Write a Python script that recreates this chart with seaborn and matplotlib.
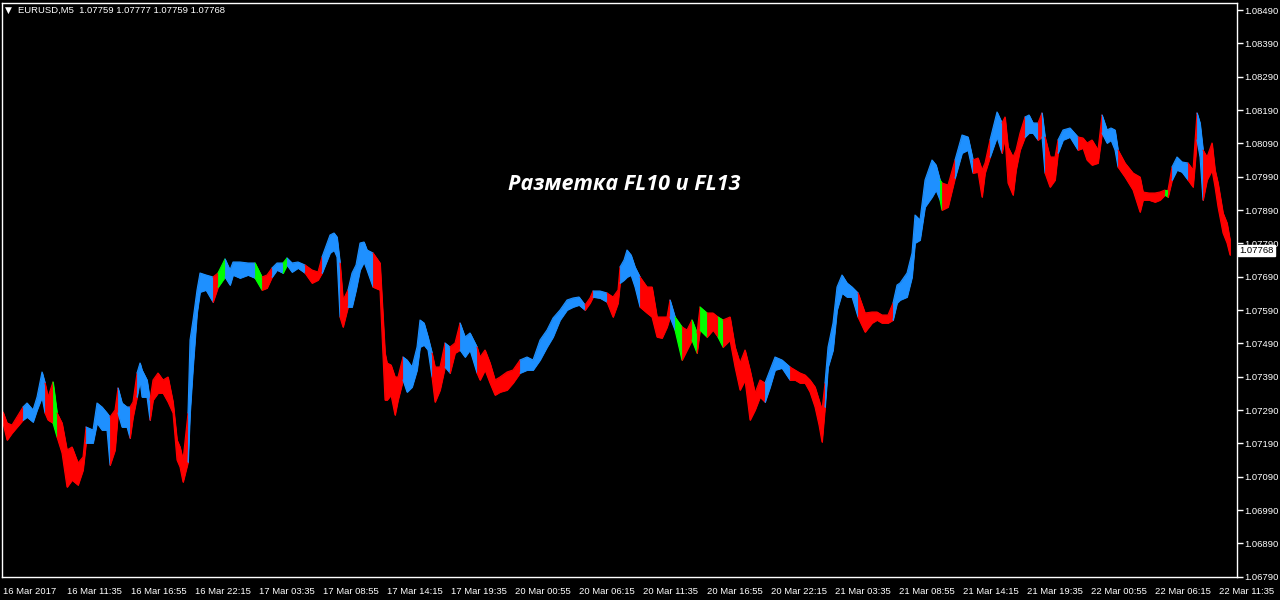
import matplotlib
matplotlib.use("Agg")
import matplotlib.pyplot as plt
import matplotlib.transforms as mtransforms
import numpy as np
import pandas as pd
import seaborn as sns

# ---------------- data ----------------
# bar index of each sample (M5 bars from the first bar on the chart)
bar = [0, 4, 9, 20, 24, 30, 34, 39, 42, 45, 50, 54, 59, 64, 69, 75, 80, 83, 90, 94,
       99, 104, 107, 112, 115, 119, 124, 127, 130, 134, 137, 139, 144, 147, 150, 155, 160, 165, 170, 174,
       177, 180, 185, 187, 190, 194, 197, 203, 210, 215, 222, 227, 230, 237, 245, 252, 259, 264, 269, 274,
       280, 284, 289, 295, 302, 309, 315, 319, 327, 331, 334, 337, 340, 345, 349, 353, 357, 361, 364, 370,
       377, 382, 384, 388, 392, 395, 400, 404, 409, 414, 417, 421, 425, 429, 432, 437, 442, 447, 452, 457,
       462, 467, 474, 477, 482, 487, 492, 497, 504, 510, 517, 524, 530, 537, 544, 550, 557, 564, 570, 576,
       582, 587, 590, 597, 604, 610, 615, 617, 621, 624, 628, 632, 637, 644, 649, 654, 659, 664, 667, 672,
       679, 684, 689, 694, 697, 704, 710, 715, 720, 727, 732, 737, 742, 747, 752, 757, 762, 767, 772, 779,
       787, 792, 797, 802, 807, 812, 816, 819, 822, 825, 830, 834, 839, 844, 849, 855, 862, 869, 874, 879,
       885, 890, 894, 897, 904, 909, 912, 917, 922, 929, 933, 937, 939, 945, 952, 959, 965, 970, 975, 979,
       982, 987, 994, 999, 1002, 1005, 1010, 1013, 1017, 1022, 1026, 1030, 1035, 1039, 1042, 1047, 1052, 1055, 1060, 1067,
       1075, 1080, 1084, 1089, 1095, 1099, 1104, 1108, 1112, 1115, 1122, 1130, 1137, 1140, 1146, 1152, 1157, 1162, 1165, 1169,
       1174, 1179, 1185, 1190, 1194, 1197, 1200, 1204, 1209, 1212, 1215, 1220, 1224, 1227]
high = [1.07284, 1.07251, 1.07245, 1.07299, 1.07311, 1.07290, 1.07329, 1.07404, 1.07371, 1.07329,
        1.07374, 1.07281, 1.07251, 1.07170, 1.07179, 1.07131, 1.07149, 1.07239, 1.07230, 1.07311,
        1.07299, 1.07281, 1.07269, 1.07290, 1.07356, 1.07311, 1.07299, 1.07299, 1.07314, 1.07401,
        1.07431, 1.07410, 1.07380, 1.07320, 1.07380, 1.07401, 1.07380, 1.07389, 1.07314, 1.07200,
        1.07179, 1.07140, 1.07281, 1.07500, 1.07560, 1.07650, 1.07701, 1.07695, 1.07689, 1.07701,
        1.07743, 1.07710, 1.07734, 1.07734, 1.07731, 1.07731, 1.07689, 1.07695, 1.07716, 1.07731,
        1.07731, 1.07746, 1.07731, 1.07734, 1.07725, 1.07710, 1.07704, 1.07749, 1.07815, 1.07821,
        1.07809, 1.07731, 1.07620, 1.07650, 1.07701, 1.07725, 1.07791, 1.07794, 1.07770, 1.07761,
        1.07731, 1.07461, 1.07431, 1.07425, 1.07389, 1.07389, 1.07449, 1.07440, 1.07419, 1.07479,
        1.07560, 1.07551, 1.07509, 1.07461, 1.07419, 1.07419, 1.07491, 1.07479, 1.07491, 1.07551,
        1.07509, 1.07521, 1.07479, 1.07449, 1.07470, 1.07431, 1.07380, 1.07389, 1.07404, 1.07410,
        1.07440, 1.07449, 1.07440, 1.07500, 1.07530, 1.07566, 1.07590, 1.07620, 1.07626, 1.07629,
        1.07605, 1.07626, 1.07647, 1.07647, 1.07641, 1.07629, 1.07650, 1.07719, 1.07740, 1.07770,
        1.07755, 1.07719, 1.07689, 1.07659, 1.07659, 1.07569, 1.07569, 1.07569, 1.07620, 1.07569,
        1.07539, 1.07530, 1.07560, 1.07521, 1.07599, 1.07581, 1.07581, 1.07569, 1.07560, 1.07569,
        1.07479, 1.07431, 1.07470, 1.07410, 1.07341, 1.07380, 1.07371, 1.07410, 1.07449, 1.07440,
        1.07419, 1.07410, 1.07401, 1.07395, 1.07380, 1.07359, 1.07320, 1.07290, 1.07371, 1.07479,
        1.07551, 1.07659, 1.07695, 1.07671, 1.07659, 1.07641, 1.07581, 1.07584, 1.07584, 1.07575,
        1.07575, 1.07611, 1.07665, 1.07671, 1.07701, 1.07761, 1.07875, 1.07860, 1.07980, 1.08040,
        1.08025, 1.07980, 1.07971, 1.07965, 1.08040, 1.08115, 1.08109, 1.08040, 1.08046, 1.08010,
        1.08031, 1.08100, 1.08184, 1.08151, 1.08169, 1.08079, 1.08049, 1.08070, 1.08121, 1.08169,
        1.08175, 1.08151, 1.08151, 1.08181, 1.08109, 1.08049, 1.08049, 1.08100, 1.08130, 1.08136,
        1.08109, 1.08106, 1.08091, 1.08100, 1.08070, 1.08175, 1.08130, 1.08136, 1.08130, 1.08070,
        1.08031, 1.08001, 1.07989, 1.07944, 1.07941, 1.07941, 1.07944, 1.07950, 1.07950, 1.08019,
        1.08049, 1.08034, 1.08031, 1.08010, 1.08181, 1.08151, 1.08070, 1.08049, 1.08091, 1.08010,
        1.07971, 1.07881, 1.07851, 1.07800]
low = [1.07251, 1.07200, 1.07221, 1.07260, 1.07269, 1.07254, 1.07290, 1.07329, 1.07281, 1.07260,
       1.07251, 1.07209, 1.07161, 1.07059, 1.07080, 1.07065, 1.07110, 1.07191, 1.07191, 1.07251,
       1.07230, 1.07230, 1.07125, 1.07170, 1.07281, 1.07239, 1.07239, 1.07206, 1.07269, 1.07329,
       1.07380, 1.07329, 1.07329, 1.07260, 1.07320, 1.07341, 1.07341, 1.07314, 1.07281, 1.07140,
       1.07119, 1.07074, 1.07134, 1.07281, 1.07419, 1.07581, 1.07644, 1.07650, 1.07614, 1.07659,
       1.07689, 1.07665, 1.07695, 1.07686, 1.07695, 1.07686, 1.07650, 1.07656, 1.07689, 1.07710,
       1.07701, 1.07725, 1.07704, 1.07716, 1.07701, 1.07671, 1.07680, 1.07701, 1.07761, 1.07770,
       1.07749, 1.07569, 1.07539, 1.07599, 1.07599, 1.07650, 1.07710, 1.07734, 1.07710, 1.07659,
       1.07650, 1.07320, 1.07320, 1.07335, 1.07275, 1.07320, 1.07380, 1.07344, 1.07359, 1.07410,
       1.07479, 1.07485, 1.07470, 1.07389, 1.07314, 1.07350, 1.07419, 1.07401, 1.07461, 1.07470,
       1.07449, 1.07470, 1.07401, 1.07380, 1.07410, 1.07371, 1.07335, 1.07344, 1.07350, 1.07371,
       1.07401, 1.07410, 1.07410, 1.07440, 1.07479, 1.07509, 1.07560, 1.07590, 1.07599, 1.07605,
       1.07590, 1.07611, 1.07629, 1.07626, 1.07614, 1.07569, 1.07611, 1.07671, 1.07680, 1.07689,
       1.07695, 1.07659, 1.07599, 1.07581, 1.07569, 1.07509, 1.07506, 1.07539, 1.07569, 1.07530,
       1.07440, 1.07470, 1.07500, 1.07461, 1.07530, 1.07509, 1.07530, 1.07509, 1.07479, 1.07500,
       1.07419, 1.07350, 1.07380, 1.07260, 1.07290, 1.07329, 1.07314, 1.07359, 1.07410, 1.07416,
       1.07380, 1.07380, 1.07371, 1.07371, 1.07344, 1.07299, 1.07245, 1.07194, 1.07299, 1.07419,
       1.07470, 1.07590, 1.07641, 1.07629, 1.07629, 1.07569, 1.07524, 1.07551, 1.07560, 1.07551,
       1.07551, 1.07560, 1.07611, 1.07620, 1.07629, 1.07689, 1.07791, 1.07800, 1.07899, 1.07929,
       1.07950, 1.07920, 1.07890, 1.07899, 1.07986, 1.08061, 1.08070, 1.08001, 1.08004, 1.07929,
       1.08001, 1.08049, 1.08109, 1.08061, 1.08109, 1.07971, 1.07935, 1.08010, 1.08070, 1.08109,
       1.08121, 1.08121, 1.08100, 1.08109, 1.08001, 1.07959, 1.07980, 1.08061, 1.08100, 1.08109,
       1.08070, 1.08076, 1.08040, 1.08025, 1.08031, 1.08121, 1.08091, 1.08100, 1.08070, 1.08019,
       1.07989, 1.07950, 1.07884, 1.07920, 1.07920, 1.07914, 1.07920, 1.07935, 1.07929, 1.07980,
       1.08010, 1.08004, 1.07980, 1.07959, 1.08100, 1.08049, 1.07920, 1.07980, 1.08010, 1.07959,
       1.07899, 1.07821, 1.07791, 1.07755]
# FL10 / FL13 marking: B = up (blue), R = down (red), G = flat (green)
signal = list("".join([
    "RRRBBBBBRR", "GRRRRRRBBB", "BBRRBBBRRB", "BBBRRRRRRR", "RRBBBBBBRG",
    "BBBBBGRRBB", "GBBBRRRBBB", "BRRBBBBBBR", "RRRRRRBBBB", "BBBRRRBRRB",
    "BBRRRRRRRR", "BBBBBBBBBB", "RRBBRRRBBB", "BBRRRRRRBG", "RRGRGRRGRR",
    "RRRRRRBBBB", "RRRRRRRRBB", "BBBBBRRRRR", "RBBBBBBBBB", "BGRRBBBRRR",
    "RBBRRRRRRB", "BBRBRRRBBB", "RRRRRBBBBR", "RRRRRRRGRB", "BBRRBBRRRR",
    "RRRR"]))
x_tick_labels = ["16 Mar 2017", "16 Mar 11:35", "16 Mar 16:55", "16 Mar 22:15", "17 Mar 03:35",
                 "17 Mar 08:55", "17 Mar 14:15", "17 Mar 19:35", "20 Mar 00:55", "20 Mar 06:15",
                 "20 Mar 11:35", "20 Mar 16:55", "20 Mar 22:15", "21 Mar 03:35", "21 Mar 08:55",
                 "21 Mar 14:15", "21 Mar 19:35", "22 Mar 00:55", "22 Mar 06:15", "22 Mar 11:35"]
y_ticks = [1.06790, 1.06890, 1.06990, 1.07090, 1.07190, 1.07290, 1.07390, 1.07490, 1.07590,
           1.07690, 1.07790, 1.07890, 1.07990, 1.08090, 1.08190, 1.08290, 1.08390, 1.08490]
last_ohlc = [1.07759, 1.07777, 1.07759, 1.07768]
symbol = "EURUSD,M5"
title = "Разметка FL10 и FL13"

palette = {"B": "#1E90FF", "R": "#FF0000", "G": "#00FF00"}

# ---------------- figure ----------------
sns.set_style("dark", rc={"axes.facecolor": "black", "figure.facecolor": "black",
                          "axes.edgecolor": "white", "text.color": "white",
                          "xtick.color": "white", "ytick.color": "white",
                          "axes.grid": False})
plt.rcParams["font.family"] = ["Liberation Sans", "DejaVu Sans"]

W, H = 1280, 600
fig = plt.figure(figsize=(W / 100, H / 100), dpi=100)
ax = fig.add_axes([2 / W, 1 - 577 / H, (1237 - 2) / W, (577 - 3) / H])

df = pd.DataFrame({"bar": bar, "high": high, "low": low, "signal": signal})

# split into runs of equal colour, each run joined to the next sample
runs = (df["signal"] != df["signal"].shift()).cumsum()
for _, grp in df.groupby(runs, sort=False):
    i0, i1 = grp.index[0], grp.index[-1]
    seg = df.loc[i0:min(i1 + 1, len(df) - 1)]
    c = palette[grp["signal"].iloc[0]]
    ax.fill_between(seg["bar"], seg["low"], seg["high"], color=c, linewidth=0.6,
                    edgecolor=c, zorder=2)
    sns.lineplot(data=seg, x="bar", y="high", ax=ax, color=c, linewidth=0.8,
                 zorder=2, legend=False, estimator=None)
    sns.lineplot(data=seg, x="bar", y="low", ax=ax, color=c, linewidth=0.8,
                 zorder=2, legend=False, estimator=None)

ax.set_xlim(-1, 1234)
ax.set_ylim(1.06789, 1.08511)
ax.set_xlabel("")
ax.set_ylabel("")

xt = np.arange(len(x_tick_labels)) * 64
ax.set_xticks(xt)
ax.set_xticklabels(x_tick_labels, ha="left", fontsize=6.8, color="white")
ax.tick_params(axis="x", direction="out", length=5, width=1, pad=2.5, colors="white")

ax.yaxis.tick_right()
ax.set_yticks(y_ticks)
ax.set_yticklabels([f"{v:.5f}" for v in y_ticks], fontsize=6.8, color="white")
ax.tick_params(axis="y", direction="out", length=4, width=1, pad=1.5, colors="white")

for s in ax.spines.values():
    s.set_color("white")
    s.set_linewidth(1)

# current price label
trans = mtransforms.blended_transform_factory(ax.transAxes, ax.transData)
ax.text(1.0 + 2 / 1235, last_ohlc[3], f"{last_ohlc[3]:.5f}", transform=trans,
        ha="left", va="center", fontsize=6.8, color="black", zorder=10, clip_on=False,
        bbox=dict(boxstyle="square,pad=0.12", fc="white", ec="white"))

# header
fig.text(5 / W, 1 - 10 / H, "▼", fontsize=6.5, color="white", va="center", ha="left",
         family="DejaVu Sans")
fig.text(18 / W, 1 - 10 / H,
         f"{symbol}  " + " ".join(f"{v:.5f}" for v in last_ohlc),
         fontsize=6.8, color="white", va="center", ha="left")

# caption
fig.text(624 / W, 1 - 184 / H, title, fontsize=15.5, color="white", ha="center",
         va="center", fontweight="bold", fontstyle="italic",
         family=["Open Sans", "DejaVu Sans"])

fig.savefig("out.png", dpi=100, facecolor="black")
